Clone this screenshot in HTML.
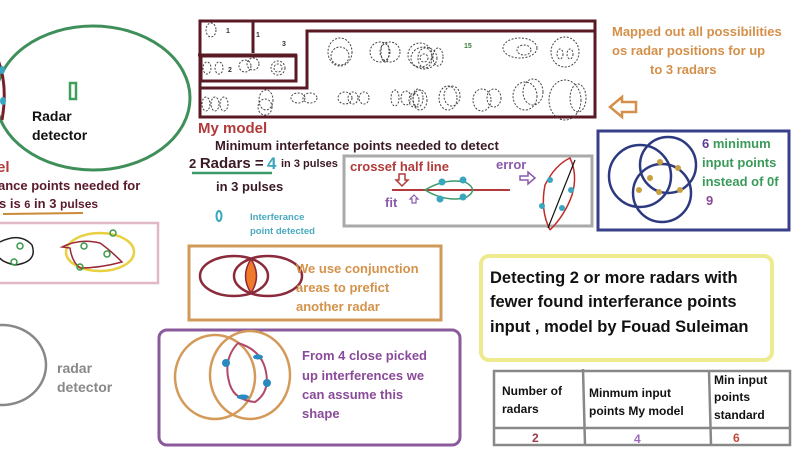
<!DOCTYPE html>
<html><head><meta charset="utf-8"><style>
html,body{margin:0;padding:0;background:#fff;}
svg{display:block;}
text{font-family:"Liberation Sans",sans-serif;font-weight:bold;}
</style></head><body>
<svg width="800" height="450" viewBox="0 0 800 450" xmlns="http://www.w3.org/2000/svg">
<rect width="800" height="450" fill="#fff"/>
<ellipse cx="93" cy="98" rx="97" ry="72" fill="none" stroke="#3f8f5a" stroke-width="3"/>
<path d="M-2 60 Q8 85 2 120" fill="none" stroke="#7a1f2a" stroke-width="3"/>
<ellipse cx="2" cy="70" rx="3" ry="4" fill="#3aa6c0"/>
<ellipse cx="3" cy="101" rx="3" ry="4" fill="#3aa6c0"/>
<rect x="70" y="83" width="6" height="16" fill="none" stroke="#3f9f5a" stroke-width="2.5"/>
<text x="32" y="121" font-size="14" fill="#111">Radar</text>
<text x="32" y="140" font-size="14" fill="#111">detector</text>
<text x="-3" y="172" font-size="15" fill="#b23a3a">el</text>
<text x="-2" y="190" font-size="13" fill="#5a1a2a">ance points needed for</text>
<text x="-1" y="208" font-size="13" fill="#5a1a2a">s is <tspan font-size="11">6</tspan> in 3 <tspan font-size="12">pulses</tspan></text>
<line x1="3" y1="214" x2="83" y2="213" stroke="#c98a3a" stroke-width="2"/>
<rect x="-5" y="223" width="163" height="60" fill="none" stroke="#e0b8c8" stroke-width="2.5"/>
<path d="M0 242 Q20 232 32 245 Q38 262 15 265 Q2 262 0 258" fill="none" stroke="#222" stroke-width="1.5"/>
<circle cx="20" cy="246" r="3" fill="none" stroke="#3a9a4a" stroke-width="1.5"/>
<circle cx="14" cy="262" r="3" fill="none" stroke="#3a9a4a" stroke-width="1.5"/>
<ellipse cx="100" cy="252" rx="34" ry="19" fill="none" stroke="#e8d040" stroke-width="2.5"/>
<path d="M62 247 Q80 238 100 243 Q110 250 122 262 Q100 268 80 268 Q72 262 70 248 Z" fill="none" stroke="#9a2a3a" stroke-width="1.5"/>
<circle cx="84" cy="246" r="3" fill="none" stroke="#3a9a4a" stroke-width="1.5"/>
<circle cx="107" cy="254" r="3" fill="none" stroke="#3a9a4a" stroke-width="1.5"/>
<circle cx="113" cy="233" r="3" fill="none" stroke="#3a9a4a" stroke-width="1.5"/>
<circle cx="80" cy="267" r="3" fill="none" stroke="#3a9a4a" stroke-width="1.5"/>
<ellipse cx="2" cy="365" rx="44" ry="40" fill="none" stroke="#888" stroke-width="2.5"/>
<text x="57" y="373" font-size="14" fill="#888">radar</text>
<text x="57" y="392" font-size="14" fill="#888">detector</text>

<g fill="none" stroke="#5a1a24" stroke-width="3">
<rect x="200" y="21" width="395" height="96"/>
<line x1="253" y1="21" x2="253" y2="53"/>
<line x1="198" y1="55" x2="297" y2="55"/>
<rect x="201" y="56" width="95" height="25"/>
<polyline points="200,88 307,88 307,31 595,31"/>
</g>
<g fill="none" stroke="#444" stroke-width="1" stroke-dasharray="2,1.5">
<ellipse cx="211" cy="30" rx="5" ry="7"/>
<ellipse cx="207" cy="68" rx="4" ry="6"/><ellipse cx="219" cy="68" rx="4" ry="6"/>
<circle cx="245" cy="66" r="6"/><circle cx="253" cy="64" r="6"/>
<ellipse cx="278" cy="68" rx="7" ry="7"/><ellipse cx="278" cy="68" rx="4" ry="4"/>
<ellipse cx="206" cy="104" rx="4" ry="7"/><ellipse cx="215" cy="104" rx="4" ry="7"/><ellipse cx="224" cy="104" rx="4" ry="7"/>
<ellipse cx="266" cy="100" rx="7" ry="10"/><ellipse cx="265" cy="107" rx="7" ry="8"/>
<ellipse cx="298" cy="98" rx="7" ry="5"/><ellipse cx="310" cy="98" rx="7" ry="5"/>
<ellipse cx="345" cy="98" rx="7" ry="6"/><ellipse cx="353" cy="98" rx="5" ry="6"/><ellipse cx="364" cy="98" rx="5" ry="6"/>
<ellipse cx="395" cy="98" rx="4" ry="8"/><ellipse cx="406" cy="98" rx="5" ry="7"/><ellipse cx="418" cy="98" rx="5" ry="9"/>
<ellipse cx="340" cy="52" rx="12" ry="14"/><ellipse cx="340" cy="56" rx="9" ry="9"/>
<ellipse cx="380" cy="52" rx="10" ry="10"/><ellipse cx="390" cy="52" rx="10" ry="10"/><ellipse cx="385" cy="52" rx="4" ry="10"/>
<ellipse cx="420" cy="55" rx="12" ry="12"/><ellipse cx="425" cy="58" rx="7" ry="10"/>
<ellipse cx="424" cy="58" rx="13" ry="11"/><ellipse cx="424" cy="58" rx="4" ry="4"/><ellipse cx="438" cy="57" rx="5" ry="9"/>
<ellipse cx="520" cy="48" rx="17" ry="10"/><ellipse cx="524" cy="50" rx="7" ry="5"/>
<ellipse cx="565" cy="52" rx="14" ry="15"/><ellipse cx="560" cy="54" rx="3" ry="5"/><ellipse cx="570" cy="54" rx="3" ry="5"/>
<ellipse cx="414" cy="100" rx="5" ry="7"/>
<ellipse cx="420" cy="100" rx="7" ry="10"/><ellipse cx="448" cy="98" rx="9" ry="12"/><ellipse cx="452" cy="96" rx="8" ry="10"/>
<ellipse cx="482" cy="100" rx="9" ry="11"/><ellipse cx="494" cy="98" rx="7" ry="9"/>
<ellipse cx="525" cy="96" rx="12" ry="14"/><ellipse cx="533" cy="92" rx="10" ry="13"/>
<ellipse cx="565" cy="100" rx="16" ry="20"/><ellipse cx="578" cy="98" rx="8" ry="14"/>
</g>
<text x="226" y="33" font-size="7" fill="#333" font-weight="normal">1</text>
<text x="256" y="37" font-size="7" fill="#333" font-weight="normal">1</text>
<text x="282" y="46" font-size="7" fill="#333" font-weight="normal">3</text>
<text x="228" y="72" font-size="7" fill="#333" font-weight="normal">2</text>
<text x="464" y="48" font-size="7" fill="#3a7a3a" font-weight="normal">15</text>

<text x="612" y="36" font-size="13" fill="#d4904a">Mapped out all possibilities</text>
<text x="612" y="55" font-size="13" fill="#d4904a">os radar  positions for up</text>
<text x="650" y="74" font-size="13" fill="#d4904a">to 3 radars</text>
<path d="M610 107 L622 97 L622 102 L636 102 L636 112 L622 112 L622 117 Z" fill="none" stroke="#d4904a" stroke-width="2.5"/>

<text x="198" y="133" font-size="15" fill="#b23a3a">My model</text>
<text x="215" y="150" font-size="13" fill="#3a1a24">Minimum interfetance points needed to detect</text>
<text x="189" y="168" font-size="13" fill="#3a1a24">2  <tspan font-size="15">Radars =</tspan></text>
<text x="267" y="169" font-size="17" fill="#3aa6c0">4</text>
<text x="281" y="167" font-size="11" fill="#3a1a24">in 3 pulses</text>
<line x1="192" y1="173" x2="272" y2="173" stroke="#3a9a6a" stroke-width="2.5"/>
<text x="216" y="191" font-size="13" fill="#3a1a24">in 3 pulses</text>
<ellipse cx="219" cy="216" rx="2.5" ry="5" fill="none" stroke="#3aa6c0" stroke-width="2"/>
<text x="250" y="220" font-size="9.5" fill="#4aaac0">Interferance</text>
<text x="250" y="234" font-size="9.5" fill="#4aaac0">point detected</text>

<rect x="344" y="156" width="248" height="70" fill="none" stroke="#aaa" stroke-width="3"/>
<text x="350" y="171" font-size="13" fill="#b23a3a">crossef half line</text>
<text x="496" y="169" font-size="13" fill="#8a5aaa">error</text>
<path d="M520 176 L528 176 L528 172 L535 178 L528 184 L528 180 L520 180 Z" fill="none" stroke="#8a5aaa" stroke-width="1.5"/>
<path d="M399 174 L405 174 L405 180 L408 180 L402 186 L396 180 L399 180 Z" fill="none" stroke="#b23a3a" stroke-width="1.5"/>
<line x1="392" y1="190" x2="510" y2="190" stroke="#b23a3a" stroke-width="2"/>
<path d="M425 190 Q445 178 465 182 Q480 190 465 198 Q445 202 425 190" fill="none" stroke="#3a9a6a" stroke-width="1.5"/>
<g fill="#3aa6c0"><circle cx="442" cy="182" r="3.5"/><circle cx="463" cy="180" r="3.5"/><circle cx="440" cy="199" r="3.5"/><circle cx="463" cy="197" r="3.5"/></g>
<text x="385" y="207" font-size="13" fill="#8a5aaa">fit</text>
<path d="M414 195 L418 199 L416 199 L416 203 L412 203 L412 199 L410 199 Z" fill="none" stroke="#8a5aaa" stroke-width="1.2"/>
<path d="M550 230 Q540 210 545 185 Q555 165 570 158 Q578 175 572 195 Q565 215 550 230" fill="none" stroke="#c02a2a" stroke-width="1.5"/>
<line x1="548" y1="228" x2="575" y2="160" stroke="#111" stroke-width="1.2"/>
<g fill="#3aa6c0"><circle cx="550" cy="180" r="3"/><circle cx="571" cy="190" r="3"/><circle cx="542" cy="206" r="3"/><circle cx="562" cy="208" r="3"/></g>

<rect x="598" y="131" width="191" height="99" fill="none" stroke="#3a3f8a" stroke-width="3"/>
<g fill="none" stroke="#2e3a80" stroke-width="2.5">
<circle cx="640" cy="176" r="31"/><circle cx="668" cy="165" r="28"/><circle cx="662" cy="193" r="29"/>
</g>
<g fill="#c8a040"><circle cx="660" cy="162" r="3"/><circle cx="678" cy="168" r="3"/><circle cx="650" cy="178" r="3"/><circle cx="639" cy="190" r="3"/><circle cx="659" cy="192" r="3"/><circle cx="680" cy="190" r="3"/></g>
<text x="702" y="148" font-size="13" fill="#5a3a9a">6 <tspan fill="#3a9a5a">minimum</tspan></text>
<text x="702" y="167" font-size="13" fill="#3a9a5a">input points</text>
<text x="702" y="186" font-size="13" fill="#3a9a5a">instead of 0f</text>
<text x="706" y="205" font-size="13" fill="#8a4a9a">9</text>

<rect x="189" y="246" width="252" height="74" fill="none" stroke="#d09a5a" stroke-width="3"/>
<ellipse cx="234" cy="276" rx="34" ry="20" fill="none" stroke="#8a2a3a" stroke-width="2.5"/>
<ellipse cx="268" cy="276" rx="34" ry="20" fill="none" stroke="#8a2a3a" stroke-width="2.5"/>
<path d="M251 259 Q262 276 251 293 Q240 276 251 259 Z" fill="#f07a2a" stroke="#8a2a3a" stroke-width="1.5"/>
<text x="296" y="273" font-size="13" fill="#d4924a">We use conjunction</text>
<text x="296" y="292" font-size="13" fill="#d4924a">areas to prefict</text>
<text x="296" y="311" font-size="13" fill="#d4924a">another radar</text>

<rect x="159" y="330" width="301" height="115" rx="8" fill="none" stroke="#8a5a9a" stroke-width="3"/>
<ellipse cx="215" cy="377" rx="40" ry="42" fill="none" stroke="#d49a5a" stroke-width="2.5"/>
<ellipse cx="250" cy="375" rx="40" ry="44" fill="none" stroke="#d49a5a" stroke-width="2.5"/>
<path d="M238 343 Q262 350 266 372 Q270 392 255 402 Q235 400 230 385 Q222 360 238 343" fill="none" stroke="#b04a6a" stroke-width="2"/>
<g fill="#2a8ac0"><circle cx="226" cy="363" r="4"/><circle cx="267" cy="383" r="4"/><ellipse cx="258" cy="357" rx="5" ry="2.5"/><ellipse cx="243" cy="397" rx="6" ry="2.5"/></g>
<text x="302" y="360" font-size="13" fill="#8a4a9a">From 4 close picked</text>
<text x="302" y="380" font-size="13" fill="#8a4a9a">up interferences we</text>
<text x="302" y="399" font-size="13" fill="#8a4a9a">can assume this</text>
<text x="302" y="418" font-size="13" fill="#8a4a9a">shape</text>

<rect x="481" y="256" width="291" height="104" rx="8" fill="none" stroke="#eeea90" stroke-width="4"/>
<text x="490" y="283" font-size="16.5" fill="#111">Detecting 2 or more radars with</text>
<text x="490" y="307" font-size="16.5" fill="#111">fewer found interferance points</text>
<text x="490" y="332" font-size="16.5" fill="#111">input , model by Fouad Suleiman</text>

<g fill="none" stroke="#888" stroke-width="2.5">
<rect x="494" y="371" width="296" height="74"/>
<line x1="494" y1="428" x2="790" y2="428"/>
<line x1="583" y1="369" x2="585" y2="445"/>
<line x1="709" y1="371" x2="711" y2="445"/>
</g>
<text x="502" y="395" font-size="12" fill="#111">Number of</text>
<text x="502" y="413" font-size="12" fill="#111">radars</text>
<text x="589" y="397" font-size="12" fill="#111">Minmum input</text>
<text x="589" y="415" font-size="12" fill="#111">points  My model</text>
<text x="714" y="384" font-size="12" fill="#111">Min input</text>
<text x="714" y="401" font-size="12" fill="#111">points</text>
<text x="714" y="419" font-size="12" fill="#111">standard</text>
<text x="532" y="442" font-size="12" fill="#9a3a4a">2</text>
<text x="634" y="443" font-size="12" fill="#9a6aba">4</text>
<text x="733" y="442" font-size="12" fill="#c04a3a">6</text>
</svg>
</body></html>
